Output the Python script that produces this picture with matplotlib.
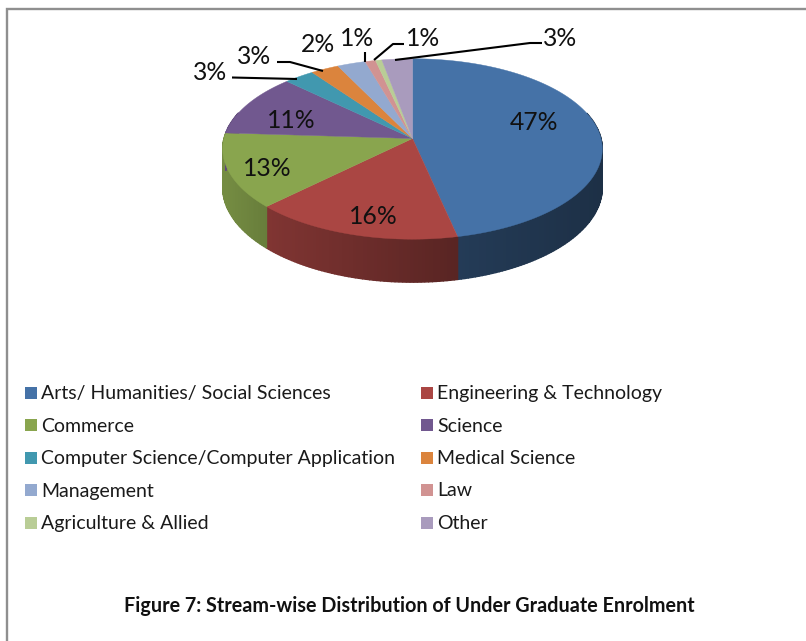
import numpy as np
import matplotlib
matplotlib.use("Agg")
import matplotlib.pyplot as plt
from matplotlib.colors import to_rgb

plt.rcParams['font.family'] = ['Lato', 'DejaVu Sans']

categories = ["Arts/ Humanities/ Social Sciences", "Engineering & Technology",
              "Commerce", "Science",
              "Computer Science/Computer Application", "Medical Science",
              "Management", "Law",
              "Agriculture & Allied", "Other"]
shares = [46.6, 16.0, 13.4, 11.2, 2.9, 2.7, 2.7, 1.0, 0.6, 2.9]
pct_labels = ["47%", "16%", "13%", "11%", "3%", "3%", "2%", "1%", "1%", "3%"]
colors = ["#4572A7", "#AA4643", "#89A54E", "#71588F", "#4198AF",
          "#DB843D", "#93A9CF", "#D19392", "#B9CD96", "#A99BBD"]
title = "Figure 7: Stream-wise Distribution of Under Graduate Enrolment"

# pie geometry, in pixels
CX, CY = 412.5, 138.5
RX, RY = 188.5, 89
PERSP = 0.116
DEPTH = 38

# label placement and leader lines, in pixels
label_pos = [(534, 122), (373, 216), (267, 168), (291, 120), (210, 73),
             (254, 56), (318, 44), (357, 38), (423, 38), (560, 38)]
leaders = [None, None, None, None,
           [(232, 77.5), (297, 79)],
           [(277, 62), (290, 62), (323, 71)],
           None,
           [(365, 52), (365, 62)],
           [(404, 44), (393, 44), (374, 60)],
           [(542, 43), (530, 43), (395, 60)]]


def project(theta, z=0):
    # theta clockwise from the back of the pie, circle seen in perspective
    x, y = np.sin(theta), -np.cos(theta)
    w = 1 - PERSP * y
    return CX + RX * x / w, CY + RY * y / w + z * DEPTH / w


def side_shade(x):
    return np.interp(x, [225, 270, 458, 600], [0.85, 0.75, 0.52, 0.42])


fig = plt.figure(figsize=(8.06, 6.41), dpi=100)
ax = fig.add_axes([0, 0, 1, 1])
ax.set_xlim(0, 806)
ax.set_ylim(641, 0)
ax.axis('off')

# page border
ax.plot([7.2, 7.2, 806], [641, 9, 9], color='#8f8f8f', lw=1.7, solid_joinstyle='miter')

edges = np.radians(np.cumsum([0] + shares) / sum(shares) * 360)

# side wall first, the top faces cover whatever is behind
for start, end, col in zip(edges[:-1], edges[1:], colors):
    steps = np.linspace(start, end, max(int(np.degrees(end - start)) + 2, 2))
    for a, b in zip(steps[:-1], steps[1:]):
        if -np.cos((a + b) / 2) < -0.3:
            continue
        xa, ya = project(a)
        xb, yb = project(b)
        xc, yc = project(b, 1)
        xd, yd = project(a, 1)
        shade = side_shade((xa + xb) / 2)
        rgb = tuple(c * shade for c in to_rgb(col))
        ax.fill([xa, xb, xc, xd], [ya, yb, yc, yd], color=rgb, lw=1.0)

for start, end, col in zip(edges[:-1], edges[1:], colors):
    t = np.linspace(start, end, max(int(np.degrees(end - start)) * 2 + 2, 3))
    xs, ys = project(t)
    ax.fill(np.r_[CX, xs], np.r_[CY, ys], color=col, lw=0.3)

for txt, pos in zip(pct_labels, label_pos):
    ax.text(pos[0], pos[1], txt, fontsize=17.8, ha='center', va='center', color='#111111')

for line in leaders:
    if line:
        ax.plot(*zip(*line), color='black', lw=1.5, solid_capstyle='butt')

# legend, two columns filled row by row
col_x = [25, 421]
row_y = [392.5, 425, 457.5, 490, 522.5]
for i, (name, col) in enumerate(zip(categories, colors)):
    x0 = col_x[i % 2]
    y0 = row_y[i // 2]
    ax.fill([x0, x0 + 12, x0 + 12, x0], [y0 - 6, y0 - 6, y0 + 6, y0 + 6], color=col, lw=0)
    ax.text(x0 + 16, y0 + 1, name, fontsize=14.05, ha='left', va='center', color='#1a1a1a')

ax.text(409.5, 605.5, title, fontsize=14.2, fontweight='bold', ha='center', va='center', color='#111111')

fig.savefig('out.png', dpi=100)
